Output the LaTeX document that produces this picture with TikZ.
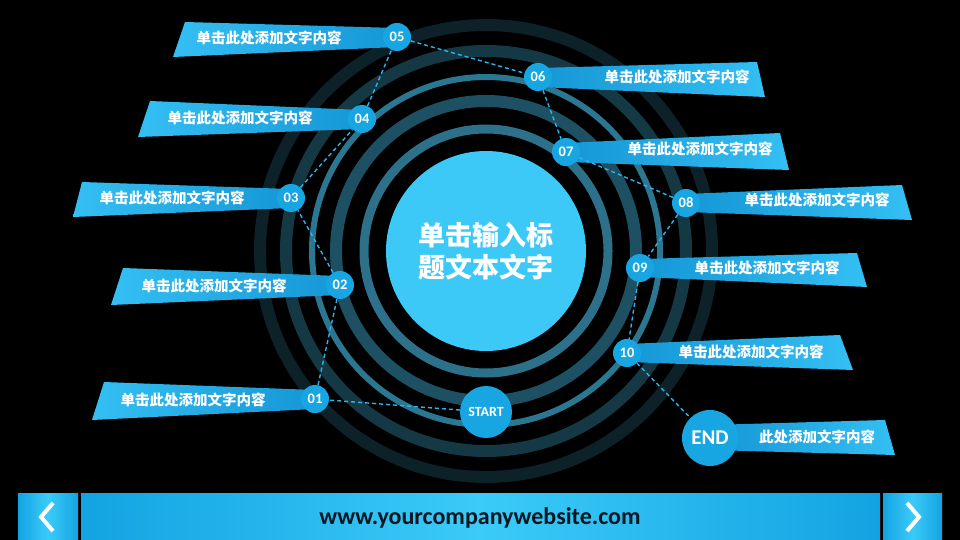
\documentclass[tikz,border=0pt]{standalone}
\usepackage{fontspec}
\setmainfont{Carlito}
\newfontfamily\cjk{Noto Sans CJK SC}
\usetikzlibrary{calc}
\definecolor{ball}{HTML}{17A6E2}
\definecolor{core}{HTML}{3CC9F8}
\definecolor{bnlite}{HTML}{34BFF3}
\definecolor{bndeep}{HTML}{1597D6}
\definecolor{linkc}{HTML}{2AB3EC}
\definecolor{ringa}{HTML}{2C7189}
\definecolor{ringb}{HTML}{1D5062}
\definecolor{ringc}{HTML}{2B7690}
\definecolor{ringd}{HTML}{153845}
\definecolor{ringe}{HTML}{0D2129}
\definecolor{barside}{HTML}{13A3E2}
\definecolor{barmid}{HTML}{3BCBF8}
\definecolor{url}{HTML}{0A1620}
\tikzset{
  num/.style={circle, fill=ball, inner sep=0pt, minimum size=28pt, text=white,
    font=\bfseries\fontsize{14.5}{14.5}\selectfont},
  bignum/.style={num, minimum size=#1},
  link/.style={draw=linkc, line width=1.4pt, dash pattern=on 4pt off 3pt},
  lab/.style={text=white, font=\cjk\bfseries\fontsize{14.5}{16}\selectfont},
  banl/.style={left color=bnlite, right color=bndeep},
  banr/.style={left color=bndeep, right color=bnlite},
  chev/.style={draw=white, line width=4pt, line join=miter},
}

\begin{document}
\begin{tikzpicture}[x=1pt,y=-1pt]
  \useasboundingbox (0,0) rectangle (960,540);
  \fill[black] (0,0) rectangle (960,540);
  \coordinate (O) at (486,251);

  % rings round the title
  \foreach \r/\w/\c in {122/9/ringa,150/12/ringb,174/6/ringc,200/12/ringd,226/12/ringe}
    \draw[\c, line width=\w pt] (O) circle (\r);
  \node[circle, fill=core, minimum size=200pt, inner sep=0pt, align=center, text=white,
    font=\cjk\bfseries\fontsize{27}{32}\selectfont] (title) at (O) {单击输入标\\题文本文字};

  % banners, left side
  \shade[banl] (185,22) -- (397,28) -- (397,47) -- (173,57) -- cycle;
  \shade[banl] (150,101) -- (362,110) -- (362,129) -- (138,137) -- cycle;
  \shade[banl] (82,182) -- (291,189) -- (291,208) -- (73,217) -- cycle;
  \shade[banl] (123,268) -- (340,276) -- (340,295) -- (111,305) -- cycle;
  \shade[banl] (104,382) -- (315,390) -- (315,409) -- (92,420) -- cycle;
  % banners, right side
  \shade[banr] (538,68) -- (757,62) -- (765,97) -- (538,87) -- cycle;
  \shade[banr] (566,143) -- (780,133) -- (789,170) -- (566,162) -- cycle;
  \shade[banr] (686,194) -- (902,185) -- (912,220) -- (686,212) -- cycle;
  \shade[banr] (640,259) -- (857,253) -- (867,287) -- (640,277) -- cycle;
  \shade[banr] (627,344) -- (840,335) -- (853,370) -- (627,362) -- cycle;
  \shade[banr] (710,425) -- (885,420) -- (895,455) -- (710,450) -- cycle;

  \node[lab] (t05) at (269,38) {单击此处添加文字内容};
  \node[lab] (t04) at (240,118) {单击此处添加文字内容};
  \node[lab] (t03) at (172,198) {单击此处添加文字内容};
  \node[lab] (t02) at (214,286) {单击此处添加文字内容};
  \node[lab] (t01) at (193,400) {单击此处添加文字内容};
  \node[lab] (t06) at (677,77) {单击此处添加文字内容};
  \node[lab] (t07) at (700,149) {单击此处添加文字内容};
  \node[lab] (t08) at (817,200) {单击此处添加文字内容};
  \node[lab] (t09) at (767,268) {单击此处添加文字内容};
  \node[lab] (t10) at (751,352) {单击此处添加文字内容};
  \node[lab] (tend) at (817,437) {此处添加文字内容};

  % steps
  \node[num] (n01) at (315,399) {01};
  \node[num] (n02) at (340,285) {02};
  \node[num] (n03) at (291,198) {03};
  \node[num] (n04) at (362,119) {04};
  \node[num] (n05) at (397,37) {05};
  \node[num] (n06) at (538,77) {06};
  \node[num] (n07) at (566,152) {07};
  \node[num] (n08) at (686,203) {08};
  \node[num] (n09) at (640,268) {09};
  \node[num] (n10) at (627,353) {10};
  \node[bignum=52pt, font=\bfseries\fontsize{14}{14}\selectfont] (start) at (486,412) {START};
  \node[bignum=56pt, font=\bfseries\fontsize{21}{21}\selectfont] (end) at (710,438) {END};

  \draw[link] (start) -- (n01) -- (n02) -- (n03) -- (n04) -- (n05) -- (n06)
    -- (n07) -- (n08) -- (n09) -- (n10) -- (end);

  % footer bar
  \shade[left color=barside, right color=barside, middle color=barmid] (18,493) rectangle (78,540);
  \shade[left color=barside, right color=barside, middle color=barmid] (81,493) rectangle (880,540);
  \shade[left color=barside, right color=barside, middle color=barmid] (883,493) rectangle (942,540);
  \node[text=url, font=\bfseries\fontsize{24}{24}\selectfont] (web) at (480,518) {www.yourcompanywebsite.com};
  \coordinate (l1) at (53,503); \coordinate (l2) at (41,517); \coordinate (l3) at (53,531);
  \coordinate (r1) at (907,503); \coordinate (r2) at (919,517); \coordinate (r3) at (907,531);
  \draw[chev] (l1) -- (l2) -- (l3);
  \draw[chev] (r1) -- (r2) -- (r3);
\end{tikzpicture}
\end{document}
